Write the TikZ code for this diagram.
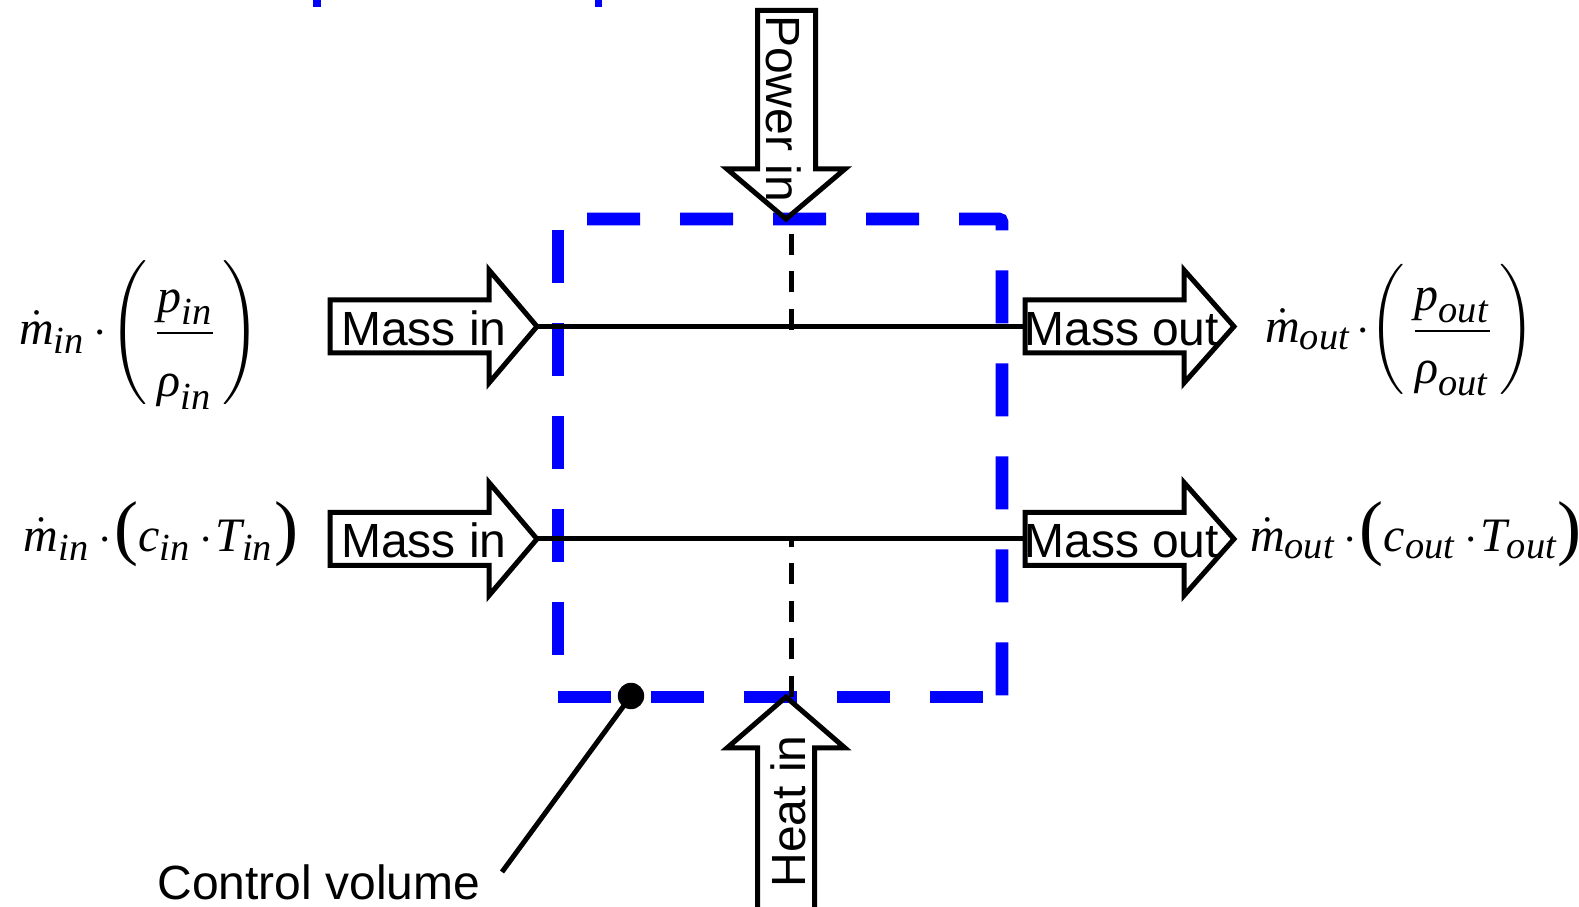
\documentclass[tikz,border=0pt]{standalone}
\usepackage{amsmath}
\usepackage{graphicx}
\usepackage{fontspec}
\setsansfont{Liberation Sans}
\newfontfamily\tms{Liberation Serif}
\newcommand{\tv}[1]{\text{\tms\itshape #1}}
\newcommand{\cd}{\mskip3mu{\cdot}\mskip1mu}
\newcommand{\lp}[1]{\mathopen{\left(\vcenter{\hbox{\rule{0pt}{#1}}}\right.}}
\newcommand{\rp}[1]{\mathclose{\left.\vcenter{\hbox{\rule{0pt}{#1}}}\right)}}
\newcommand{\tlp}{\mathopen{\text{\tms\fontsize{18}{18}\selectfont(}}}
\newcommand{\trp}{\mathclose{\text{\tms\fontsize{18}{18}\selectfont)}}}
\DeclareMathSizes{12}{12}{9.6}{7.2}
\definecolor{cvblue}{RGB}{0,0,255}
\newcommand{\rarr}[5]{%
  \draw[arrowshape] (#1,#4-26.5) -- (#2,#4-26.5) -- (#2,#4-56.5) -- (#3,#4)
    -- (#2,#4+56.5) -- (#2,#4+26.5) -- (#1,#4+26.5) -- cycle;
  \coordinate (#5) at (#3,#4);
  \coordinate (#5-in) at (#1,#4);}
\begin{document}
\begin{tikzpicture}[x=0.25pt,y=-0.25pt,
  blueline/.style={draw=cvblue, line width=3.15pt, dash pattern=on 13.25pt off 10pt},
  arrowshape/.style={draw=black, line width=1.25pt, line join=miter},
  cline/.style={draw=black, line width=1.25pt},
  cdash/.style={draw=black, line width=1.25pt, dash pattern=on 5.25pt off 4.125pt},
  lbl/.style={font=\sffamily\fontsize{12}{14}\selectfont, inner sep=0pt},
  eq/.style={font=\fontsize{12}{14}\selectfont, inner sep=0pt}]
\useasboundingbox (0,0) rectangle (1579,907);
\clip (0,0) rectangle (1579,907);
% fragments at the top
\fill[cvblue] (313.3,0) rectangle (320.7,6.7);
\fill[cvblue] (594.7,0) rectangle (602.3,6.7);
% control volume
\draw[blueline, dash phase=16pt, rounded corners=0.75pt] (558,219) -- (1002,219) -- (1002,697);
\draw[blueline, dash phase=20.5pt] (558,219) -- (558,680);
\draw[blueline] (558,697) -- (1002,697);
% arrows
\rarr{330}{489}{537}{326.5}{mi1}
\rarr{1025}{1184}{1234}{326.5}{mo1}
\rarr{330}{489}{537}{539}{mi2}
\rarr{1025}{1184}{1234}{539}{mo2}
\draw[arrowshape] (757.5,10.5) -- (757.5,169) -- (727,169) -- (786,219) -- (845,169)
  -- (815.5,169) -- (815.5,10.5) -- cycle;
\coordinate (ptip) at (786,219);
\draw[arrowshape] (757.5,930) -- (757.5,748) -- (727,748) -- (786,697) -- (845,748)
  -- (814.5,748) -- (814.5,930);
\coordinate (htip) at (786,697);
% connectors
\coordinate (j1) at (791,330);
\coordinate (j2) at (791,539);
\draw[cline] (mi1) -- (mo1-in);
\draw[cline] (mi2) -- (mo2-in);
\draw[cdash] (j1) -- (j1 |- ptip);
\draw[cdash] (j2 |- htip) -- (j2);
% labels
\node[lbl, anchor=base] (tmi1) at (424,346) {Mass in};
\node[lbl, anchor=base] (tmo1) at (1121.7,346) {Mass out};
\node[lbl, anchor=base] (tmi2) at (424,558) {Mass in};
\node[lbl, anchor=base] (tmo2) at (1121.7,558) {Mass out};
\node[lbl, anchor=base, rotate=-90] (tpow) at (766,108.5) {Power in};
\node[lbl, anchor=base, rotate=90] (theat) at (805,811.5) {Heat in};
\node[lbl, anchor=base] (tcv) at (319,900) {Control volume};
% leader
\node[circle, fill=black, inner sep=0pt, minimum size=6.6pt] (cvdot) at (631,696) {};
\coordinate (cvend) at (502,872);
\draw[cline] (cvdot.center) -- (cvend);
% equations
\node[eq] (eq1) at (140,334) {$\dot{\tv{m}}_{\tv{in}}\cd\lp{37pt}\dfrac{\tv{p}_{\tv{in}}}{\rule{0pt}{14.3pt}\tv{ρ}_{\tv{in}}}\rp{37pt}$};
\node[eq] (eq2) at (1400,330) {$\dot{\tv{m}}_{\tv{out}}\mskip2mu{\cdot}\mathopen{\scalebox{1}[1.13]{$\lp{28pt}$}}\dfrac{\tv{p}_{\tv{out}}}{\rule{0pt}{11.5pt}\tv{ρ}_{\tv{out}}}\mathclose{\scalebox{1}[1.13]{$\rp{28pt}$}}$};
\node[eq, anchor=base] (eq3) at (161,551.7) {$\dot{\tv{m}}_{\tv{in}}\cd\tlp\tv{c}_{\tv{in}}\cd\tv{T}_{\tv{in}}\trp$};
\node[eq, anchor=base] (eq4) at (1416,551.7) {$\dot{\tv{m}}_{\tv{out}}\cd\tlp\tv{c}_{\tv{out}}\cd\tv{T}_{\tv{out}}\trp$};
\end{tikzpicture}
\end{document}
